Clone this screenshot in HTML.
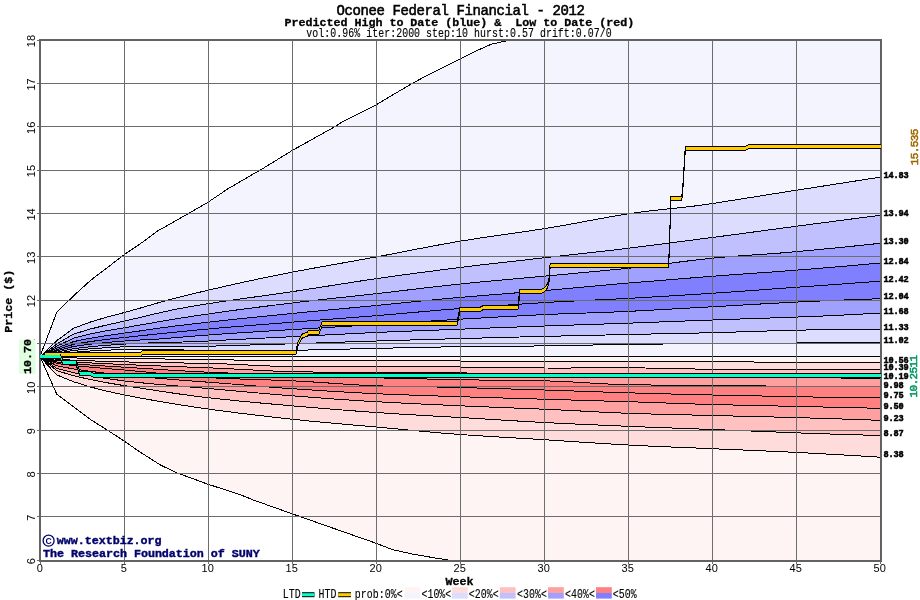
<!DOCTYPE html>
<html lang="en"><head><meta charset="utf-8"><title>Oconee Federal Financial - 2012</title>
<style>html,body{margin:0;padding:0;background:#fff}body{width:920px;height:600px;overflow:hidden}svg{display:block;will-change:transform;opacity:.999}</style></head>
<body>
<svg width="920" height="600" viewBox="0 0 920 600">
<defs><clipPath id="cp"><rect x="40" y="40" width="841" height="521"/></clipPath></defs>
<rect width="920" height="600" fill="#fff"/>
<g clip-path="url(#cp)">
<polygon points="40.00,356.50 56.80,312.20 73.60,295.80 90.40,280.50 107.20,267.70 124.00,254.80 140.80,243.40 157.60,231.00 174.40,221.50 191.20,212.00 208.00,202.25 227.49,189.10 249.83,176.00 260.75,169.80 292.00,150.60 334.67,126.80 343.07,121.30 376.00,104.90 399.52,90.90 412.29,83.40 427.91,75.00 460.00,59.00 478.82,49.80 491.42,44.20 507.88,40.60 527.20,37.00 880.00,0.00 880.00,177.20 863.20,179.81 846.40,182.43 829.60,185.05 812.80,187.68 796.00,190.30 779.20,192.94 762.40,195.60 745.60,198.28 728.80,200.95 712.00,203.60 695.20,205.93 678.40,207.82 661.60,209.58 644.80,211.47 628.00,213.80 611.20,216.62 594.40,219.69 577.60,222.84 560.80,225.90 544.00,228.70 527.20,231.23 510.40,233.65 493.60,236.06 476.80,238.55 460.00,241.20 443.20,244.12 426.40,247.26 409.60,250.53 392.80,253.81 376.00,257.00 359.20,260.05 342.40,263.03 325.60,266.01 308.80,269.04 292.00,272.20 275.20,275.52 258.40,279.00 241.60,282.62 224.80,286.37 208.00,290.25 191.20,294.17 174.40,298.32 157.60,303.01 140.80,307.91 124.00,312.60 107.20,317.02 90.40,322.03 73.60,328.29 56.80,340.64 40.00,356.90" fill="#f4f4ff"/>
<polygon points="40.00,356.90 56.80,340.64 73.60,328.29 90.40,322.03 107.20,317.02 124.00,312.60 140.80,307.91 157.60,303.01 174.40,298.32 191.20,294.17 208.00,290.25 224.80,286.37 241.60,282.62 258.40,279.00 275.20,275.52 292.00,272.20 308.80,269.04 325.60,266.01 342.40,263.03 359.20,260.05 376.00,257.00 392.80,253.81 409.60,250.53 426.40,247.26 443.20,244.12 460.00,241.20 476.80,238.55 493.60,236.06 510.40,233.65 527.20,231.23 544.00,228.70 560.80,225.90 577.60,222.84 594.40,219.69 611.20,216.62 628.00,213.80 644.80,211.47 661.60,209.58 678.40,207.82 695.20,205.93 712.00,203.60 728.80,200.95 745.60,198.28 762.40,195.60 779.20,192.94 796.00,190.30 812.80,187.68 829.60,185.05 846.40,182.43 863.20,179.81 880.00,177.20 880.00,215.30 863.20,217.49 846.40,219.68 829.60,221.88 812.80,224.09 796.00,226.30 779.20,228.54 762.40,230.81 745.60,233.07 728.80,235.32 712.00,237.50 695.20,239.67 678.40,241.85 661.60,244.04 644.80,246.19 628.00,248.30 611.20,250.30 594.40,252.19 577.60,254.03 560.80,255.88 544.00,257.80 527.20,259.72 510.40,261.59 493.60,263.47 476.80,265.42 460.00,267.50 443.20,269.66 426.40,271.83 409.60,274.04 392.80,276.31 376.00,278.70 359.20,281.21 342.40,283.82 325.60,286.47 308.80,289.11 292.00,291.70 275.20,294.15 258.40,296.47 241.60,298.77 224.80,301.17 208.00,303.75 191.20,306.49 174.40,309.54 157.60,313.23 140.80,317.27 124.00,321.20 107.20,324.87 90.40,329.00 73.60,334.10 56.80,343.96 40.00,356.90" fill="#dcdcff"/>
<polygon points="40.00,356.90 56.80,343.96 73.60,334.10 90.40,329.00 107.20,324.87 124.00,321.20 140.80,317.27 157.60,313.23 174.40,309.54 191.20,306.49 208.00,303.75 224.80,301.17 241.60,298.77 258.40,296.47 275.20,294.15 292.00,291.70 308.80,289.11 325.60,286.47 342.40,283.82 359.20,281.21 376.00,278.70 392.80,276.31 409.60,274.04 426.40,271.83 443.20,269.66 460.00,267.50 476.80,265.42 493.60,263.47 510.40,261.59 527.20,259.72 544.00,257.80 560.80,255.88 577.60,254.03 594.40,252.19 611.20,250.30 628.00,248.30 644.80,246.19 661.60,244.04 678.40,241.85 695.20,239.67 712.00,237.50 728.80,235.32 745.60,233.07 762.40,230.81 779.20,228.54 796.00,226.30 812.80,224.09 829.60,221.88 846.40,219.68 863.20,217.49 880.00,215.30 880.00,243.30 863.20,245.12 846.40,246.84 829.60,248.50 812.80,250.11 796.00,251.70 779.20,253.12 762.40,254.33 745.60,255.47 728.80,256.71 712.00,258.20 695.20,260.05 678.40,262.15 661.60,264.35 644.80,266.45 628.00,268.30 611.20,269.93 594.40,271.52 577.60,273.08 560.80,274.63 544.00,276.20 527.20,277.75 510.40,279.25 493.60,280.76 476.80,282.32 460.00,284.00 443.20,285.82 426.40,287.76 409.60,289.76 392.80,291.75 376.00,293.70 359.20,295.56 342.40,297.36 325.60,299.17 308.80,301.03 292.00,303.00 275.20,305.05 258.40,307.15 241.60,309.32 224.80,311.60 208.00,314.00 191.20,316.48 174.40,319.09 157.60,321.97 140.80,324.91 124.00,327.80 107.20,330.63 90.40,333.94 73.60,338.13 56.80,346.24 40.00,356.90" fill="#c0c0ff"/>
<polygon points="40.00,356.90 56.80,346.24 73.60,338.13 90.40,333.94 107.20,330.63 124.00,327.80 140.80,324.91 157.60,321.97 174.40,319.09 191.20,316.48 208.00,314.00 224.80,311.60 241.60,309.32 258.40,307.15 275.20,305.05 292.00,303.00 308.80,301.03 325.60,299.17 342.40,297.36 359.20,295.56 376.00,293.70 392.80,291.75 409.60,289.76 426.40,287.76 443.20,285.82 460.00,284.00 476.80,282.32 493.60,280.76 510.40,279.25 527.20,277.75 544.00,276.20 560.80,274.63 577.60,273.08 594.40,271.52 611.20,269.93 628.00,268.30 644.80,266.45 661.60,264.35 678.40,262.15 695.20,260.05 712.00,258.20 728.80,256.71 745.60,255.47 762.40,254.33 779.20,253.12 796.00,251.70 812.80,250.11 829.60,248.50 846.40,246.84 863.20,245.12 880.00,243.30 880.00,263.00 863.20,264.53 846.40,266.02 829.60,267.47 812.80,268.86 796.00,270.20 779.20,271.46 762.40,272.66 745.60,273.84 728.80,275.04 712.00,276.30 695.20,277.63 678.40,278.98 661.60,280.35 644.80,281.73 628.00,283.10 611.20,284.53 594.40,286.05 577.60,287.60 560.80,289.13 544.00,290.60 527.20,291.99 510.40,293.33 493.60,294.65 476.80,296.00 460.00,297.40 443.20,298.90 426.40,300.51 409.60,302.17 392.80,303.85 376.00,305.50 359.20,307.10 342.40,308.68 325.60,310.25 308.80,311.85 292.00,313.50 275.20,315.17 258.40,316.85 241.60,318.56 224.80,320.35 208.00,322.25 191.20,324.13 174.40,326.08 157.60,328.40 140.80,330.82 124.00,333.20 107.20,335.52 90.40,338.21 73.60,341.59 56.80,348.20 40.00,356.90" fill="#a0a0ff"/>
<polygon points="40.00,356.90 56.80,348.20 73.60,341.59 90.40,338.21 107.20,335.52 124.00,333.20 140.80,330.82 157.60,328.40 174.40,326.08 191.20,324.13 208.00,322.25 224.80,320.35 241.60,318.56 258.40,316.85 275.20,315.17 292.00,313.50 308.80,311.85 325.60,310.25 342.40,308.68 359.20,307.10 376.00,305.50 392.80,303.85 409.60,302.17 426.40,300.51 443.20,298.90 460.00,297.40 476.80,296.00 493.60,294.65 510.40,293.33 527.20,291.99 544.00,290.60 560.80,289.13 577.60,287.60 594.40,286.05 611.20,284.53 628.00,283.10 644.80,281.73 661.60,280.35 678.40,278.98 695.20,277.63 712.00,276.30 728.80,275.04 745.60,273.84 762.40,272.66 779.20,271.46 796.00,270.20 812.80,268.86 829.60,267.47 846.40,266.02 863.20,264.53 880.00,263.00 880.00,281.20 863.20,282.43 846.40,283.66 829.60,284.88 812.80,286.10 796.00,287.30 779.20,288.51 762.40,289.75 745.60,290.97 728.80,292.16 712.00,293.30 695.20,294.38 678.40,295.43 661.60,296.45 644.80,297.43 628.00,298.40 611.20,299.28 594.40,300.06 577.60,300.82 560.80,301.64 544.00,302.60 527.20,303.68 510.40,304.82 493.60,306.00 476.80,307.23 460.00,308.50 443.20,309.85 426.40,311.31 409.60,312.81 392.80,314.30 376.00,315.70 359.20,317.02 342.40,318.31 325.60,319.58 308.80,320.87 292.00,322.20 275.20,323.53 258.40,324.84 241.60,326.16 224.80,327.54 208.00,329.00 191.20,330.56 174.40,332.23 157.60,333.98 140.80,335.70 124.00,337.50 107.20,339.37 90.40,341.54 73.60,344.31 56.80,349.72 40.00,356.90" fill="#8080ff"/>
<polygon points="40.00,356.90 56.80,349.72 73.60,344.31 90.40,341.54 107.20,339.37 124.00,337.50 140.80,335.70 157.60,333.98 174.40,332.23 191.20,330.56 208.00,329.00 224.80,327.54 241.60,326.16 258.40,324.84 275.20,323.53 292.00,322.20 308.80,320.87 325.60,319.58 342.40,318.31 359.20,317.02 376.00,315.70 392.80,314.30 409.60,312.81 426.40,311.31 443.20,309.85 460.00,308.50 476.80,307.23 493.60,306.00 510.40,304.82 527.20,303.68 544.00,302.60 560.80,301.64 577.60,300.82 594.40,300.06 611.20,299.28 628.00,298.40 644.80,297.43 661.60,296.45 678.40,295.43 695.20,294.38 712.00,293.30 728.80,292.16 745.60,290.97 762.40,289.75 779.20,288.51 796.00,287.30 812.80,286.10 829.60,284.88 846.40,283.66 863.20,282.43 880.00,281.20 880.00,298.75 863.20,299.31 846.40,299.92 829.60,300.59 812.80,301.31 796.00,302.10 779.20,302.97 762.40,303.90 745.60,304.88 728.80,305.85 712.00,306.80 695.20,307.73 678.40,308.67 661.60,309.60 644.80,310.52 628.00,311.40 611.20,312.15 594.40,312.75 577.60,313.30 560.80,313.88 544.00,314.60 527.20,315.45 510.40,316.35 493.60,317.28 476.80,318.24 460.00,319.20 443.20,320.21 426.40,321.30 409.60,322.42 392.80,323.54 376.00,324.60 359.20,325.61 342.40,326.59 325.60,327.57 308.80,328.57 292.00,329.60 275.20,330.64 258.40,331.67 241.60,332.72 224.80,333.82 208.00,335.00 191.20,336.33 174.40,337.77 157.60,339.11 140.80,339.94 124.00,341.00 107.20,342.45 90.40,344.18 73.60,346.44 56.80,350.90 40.00,356.90" fill="#8080ff"/>
<polygon points="40.00,356.90 56.80,350.90 73.60,346.44 90.40,344.18 107.20,342.45 124.00,341.00 140.80,339.94 157.60,339.11 174.40,337.77 191.20,336.33 208.00,335.00 224.80,333.82 241.60,332.72 258.40,331.67 275.20,330.64 292.00,329.60 308.80,328.57 325.60,327.57 342.40,326.59 359.20,325.61 376.00,324.60 392.80,323.54 409.60,322.42 426.40,321.30 443.20,320.21 460.00,319.20 476.80,318.24 493.60,317.28 510.40,316.35 527.20,315.45 544.00,314.60 560.80,313.88 577.60,313.30 594.40,312.75 611.20,312.15 628.00,311.40 644.80,310.52 661.60,309.60 678.40,308.67 695.20,307.73 712.00,306.80 728.80,305.85 745.60,304.88 762.40,303.90 779.20,302.97 796.00,302.10 812.80,301.31 829.60,300.59 846.40,299.92 863.20,299.31 880.00,298.75 880.00,313.10 863.20,314.00 846.40,314.87 829.60,315.70 812.80,316.44 796.00,317.10 779.20,317.69 762.40,318.26 745.60,318.82 728.80,319.40 712.00,320.00 695.20,320.63 678.40,321.28 661.60,321.92 644.80,322.57 628.00,323.20 611.20,323.79 594.40,324.34 577.60,324.88 560.80,325.42 544.00,326.00 527.20,326.61 510.40,327.24 493.60,327.88 476.80,328.54 460.00,329.20 443.20,329.85 426.40,330.48 409.60,331.12 392.80,331.78 376.00,332.50 359.20,333.28 342.40,334.12 325.60,334.99 308.80,335.85 292.00,336.70 275.20,337.53 258.40,338.36 241.60,339.21 224.80,340.08 208.00,341.00 191.20,341.75 174.40,342.25 157.60,342.69 140.80,343.24 124.00,344.10 107.20,345.24 90.40,346.70 73.60,348.62 56.80,352.20 40.00,356.90" fill="#a0a0ff"/>
<polygon points="40.00,356.90 56.80,352.20 73.60,348.62 90.40,346.70 107.20,345.24 124.00,344.10 140.80,343.24 157.60,342.69 174.40,342.25 191.20,341.75 208.00,341.00 224.80,340.08 241.60,339.21 258.40,338.36 275.20,337.53 292.00,336.70 308.80,335.85 325.60,334.99 342.40,334.12 359.20,333.28 376.00,332.50 392.80,331.78 409.60,331.12 426.40,330.48 443.20,329.85 460.00,329.20 476.80,328.54 493.60,327.88 510.40,327.24 527.20,326.61 544.00,326.00 560.80,325.42 577.60,324.88 594.40,324.34 611.20,323.79 628.00,323.20 644.80,322.57 661.60,321.92 678.40,321.28 695.20,320.63 712.00,320.00 728.80,319.40 745.60,318.82 762.40,318.26 779.20,317.69 796.00,317.10 812.80,316.44 829.60,315.70 846.40,314.87 863.20,314.00 880.00,313.10 880.00,329.75 863.20,329.66 846.40,329.64 829.60,329.71 812.80,329.89 796.00,330.20 779.20,330.64 762.40,331.16 745.60,331.71 728.80,332.24 712.00,332.70 695.20,333.09 678.40,333.45 661.60,333.79 644.80,334.14 628.00,334.50 611.20,334.88 594.40,335.25 577.60,335.63 560.80,336.01 544.00,336.40 527.20,336.81 510.40,337.25 493.60,337.70 476.80,338.16 460.00,338.60 443.20,339.05 426.40,339.52 409.60,340.01 392.80,340.51 376.00,341.00 359.20,341.52 342.40,342.09 325.60,342.69 308.80,343.26 292.00,343.80 275.20,344.29 258.40,344.77 241.60,345.25 224.80,345.74 208.00,346.25 191.20,346.53 174.40,346.49 157.60,346.36 140.80,346.38 124.00,346.80 107.20,347.62 90.40,348.79 73.60,350.41 56.80,353.22 40.00,356.90" fill="#c0c0ff"/>
<polygon points="40.00,356.90 56.80,353.22 73.60,350.41 90.40,348.79 107.20,347.62 124.00,346.80 140.80,346.38 157.60,346.36 174.40,346.49 191.20,346.53 208.00,346.25 224.80,345.74 241.60,345.25 258.40,344.77 275.20,344.29 292.00,343.80 308.80,343.26 325.60,342.69 342.40,342.09 359.20,341.52 376.00,341.00 392.80,340.51 409.60,340.01 426.40,339.52 443.20,339.05 460.00,338.60 476.80,338.16 493.60,337.70 510.40,337.25 527.20,336.81 544.00,336.40 560.80,336.01 577.60,335.63 594.40,335.25 611.20,334.88 628.00,334.50 644.80,334.14 661.60,333.79 678.40,333.45 695.20,333.09 712.00,332.70 728.80,332.24 745.60,331.71 762.40,331.16 779.20,330.64 796.00,330.20 812.80,329.89 829.60,329.71 846.40,329.64 863.20,329.66 880.00,329.75 880.00,342.50 863.20,342.59 846.40,342.69 829.60,342.79 812.80,342.89 796.00,343.00 779.20,343.11 762.40,343.22 745.60,343.34 728.80,343.46 712.00,343.60 695.20,343.74 678.40,343.88 661.60,344.03 644.80,344.20 628.00,344.40 611.20,344.66 594.40,344.98 577.60,345.33 560.80,345.65 544.00,345.90 527.20,346.08 510.40,346.22 493.60,346.36 476.80,346.51 460.00,346.70 443.20,346.96 426.40,347.29 409.60,347.65 392.80,348.03 376.00,348.40 359.20,348.78 342.40,349.20 325.60,349.61 308.80,349.99 292.00,350.30 275.20,350.47 258.40,350.51 241.60,350.46 224.80,350.37 208.00,350.30 191.20,350.14 174.40,349.85 157.60,349.57 140.80,349.44 124.00,349.60 107.20,350.12 90.40,351.01 73.60,352.29 56.80,354.32 40.00,356.90" fill="#dcdcff"/>
<polygon points="40.00,356.90 56.80,354.32 73.60,352.29 90.40,351.01 107.20,350.12 124.00,349.60 140.80,349.44 157.60,349.57 174.40,349.85 191.20,350.14 208.00,350.30 224.80,350.37 241.60,350.46 258.40,350.51 275.20,350.47 292.00,350.30 308.80,349.99 325.60,349.61 342.40,349.20 359.20,348.78 376.00,348.40 392.80,348.03 409.60,347.65 426.40,347.29 443.20,346.96 460.00,346.70 476.80,346.51 493.60,346.36 510.40,346.22 527.20,346.08 544.00,345.90 560.80,345.65 577.60,345.33 594.40,344.98 611.20,344.66 628.00,344.40 644.80,344.20 661.60,344.03 678.40,343.88 695.20,343.74 712.00,343.60 728.80,343.46 745.60,343.34 762.40,343.22 779.20,343.11 796.00,343.00 812.80,342.89 829.60,342.79 846.40,342.69 863.20,342.59 880.00,342.50 881.00,356.50 40.00,356.50" fill="#f4f4ff"/>
<polygon points="40.00,356.50 881.00,356.50 880.00,362.50 863.20,362.57 846.40,362.59 829.60,362.58 812.80,362.55 796.00,362.50 779.20,362.37 762.40,362.14 745.60,361.86 728.80,361.63 712.00,361.50 695.20,361.46 678.40,361.44 661.60,361.42 644.80,361.41 628.00,361.40 611.20,361.40 594.40,361.42 577.60,361.44 560.80,361.44 544.00,361.40 527.20,361.34 510.40,361.26 493.60,361.18 476.80,361.09 460.00,361.00 443.20,360.89 426.40,360.76 409.60,360.62 392.80,360.50 376.00,360.40 359.20,360.41 342.40,360.53 325.60,360.69 308.80,360.81 292.00,360.80 275.20,360.65 258.40,360.41 241.60,360.13 224.80,359.85 208.00,359.60 191.20,359.38 174.40,359.14 157.60,358.91 140.80,358.69 124.00,358.50 107.20,358.32 90.40,358.15 73.60,357.97 56.80,357.73 40.00,356.90" fill="#fff4f4"/>
<polygon points="40.00,356.90 56.80,357.73 73.60,357.97 90.40,358.15 107.20,358.32 124.00,358.50 140.80,358.69 157.60,358.91 174.40,359.14 191.20,359.38 208.00,359.60 224.80,359.85 241.60,360.13 258.40,360.41 275.20,360.65 292.00,360.80 308.80,360.81 325.60,360.69 342.40,360.53 359.20,360.41 376.00,360.40 392.80,360.50 409.60,360.62 426.40,360.76 443.20,360.89 460.00,361.00 476.80,361.09 493.60,361.18 510.40,361.26 527.20,361.34 544.00,361.40 560.80,361.44 577.60,361.44 594.40,361.42 611.20,361.40 628.00,361.40 644.80,361.41 661.60,361.42 678.40,361.44 695.20,361.46 712.00,361.50 728.80,361.63 745.60,361.86 762.40,362.14 779.20,362.37 796.00,362.50 812.80,362.55 829.60,362.58 846.40,362.59 863.20,362.57 880.00,362.50 880.00,369.70 863.20,369.75 846.40,369.78 829.60,369.80 812.80,369.77 796.00,369.70 779.20,369.60 762.40,369.50 745.60,369.40 728.80,369.30 712.00,369.20 695.20,369.01 678.40,368.69 661.60,368.33 644.80,368.00 628.00,367.80 611.20,367.77 594.40,367.85 577.60,367.97 560.80,368.05 544.00,368.00 527.20,367.83 510.40,367.62 493.60,367.40 476.80,367.18 460.00,367.00 443.20,366.86 426.40,366.75 409.60,366.66 392.80,366.58 376.00,366.50 359.20,366.51 342.40,366.62 325.60,366.76 308.80,366.82 292.00,366.70 275.20,366.25 258.40,365.51 241.60,364.66 224.80,363.90 208.00,363.40 191.20,363.12 174.40,362.86 157.60,362.58 140.80,362.27 124.00,361.90 107.20,361.43 90.40,360.87 73.60,360.19 56.80,359.27 40.00,356.90" fill="#ffdcdc"/>
<polygon points="40.00,356.90 56.80,359.27 73.60,360.19 90.40,360.87 107.20,361.43 124.00,361.90 140.80,362.27 157.60,362.58 174.40,362.86 191.20,363.12 208.00,363.40 224.80,363.90 241.60,364.66 258.40,365.51 275.20,366.25 292.00,366.70 308.80,366.82 325.60,366.76 342.40,366.62 359.20,366.51 376.00,366.50 392.80,366.58 409.60,366.66 426.40,366.75 443.20,366.86 460.00,367.00 476.80,367.18 493.60,367.40 510.40,367.62 527.20,367.83 544.00,368.00 560.80,368.05 577.60,367.97 594.40,367.85 611.20,367.77 628.00,367.80 644.80,368.00 661.60,368.33 678.40,368.69 695.20,369.01 712.00,369.20 728.80,369.30 745.60,369.40 762.40,369.50 779.20,369.60 796.00,369.70 812.80,369.77 829.60,369.80 846.40,369.78 863.20,369.75 880.00,369.70 880.00,378.30 863.20,378.18 846.40,378.05 829.60,377.92 812.80,377.78 796.00,377.64 779.20,377.49 762.40,377.34 745.60,377.19 728.80,377.03 712.00,376.87 695.20,376.70 678.40,376.54 661.60,376.37 644.80,376.19 628.00,376.00 611.20,375.77 594.40,375.49 577.60,375.16 560.80,374.82 544.00,374.47 527.20,374.13 510.40,373.79 493.60,373.47 476.80,373.17 460.00,372.90 443.20,372.68 426.40,372.53 409.60,372.42 392.80,372.32 376.00,372.20 359.20,372.13 342.40,372.12 325.60,372.10 308.80,371.98 292.00,371.70 275.20,371.14 258.40,370.33 241.60,369.42 224.80,368.53 208.00,367.80 191.20,367.18 174.40,366.54 157.60,365.88 140.80,365.19 124.00,364.50 107.20,363.75 90.40,362.91 73.60,361.91 56.80,360.60 40.00,356.90" fill="#ffc0c0"/>
<polygon points="40.00,356.90 56.80,360.60 73.60,361.91 90.40,362.91 107.20,363.75 124.00,364.50 140.80,365.19 157.60,365.88 174.40,366.54 191.20,367.18 208.00,367.80 224.80,368.53 241.60,369.42 258.40,370.33 275.20,371.14 292.00,371.70 308.80,371.98 325.60,372.10 342.40,372.12 359.20,372.13 376.00,372.20 392.80,372.32 409.60,372.42 426.40,372.53 443.20,372.68 460.00,372.90 476.80,373.17 493.60,373.47 510.40,373.79 527.20,374.13 544.00,374.47 560.80,374.82 577.60,375.16 594.40,375.49 611.20,375.77 628.00,376.00 644.80,376.19 661.60,376.37 678.40,376.54 695.20,376.70 712.00,376.87 728.80,377.03 745.60,377.19 762.40,377.34 779.20,377.49 796.00,377.64 812.80,377.78 829.60,377.92 846.40,378.05 863.20,378.18 880.00,378.30 880.00,387.00 863.20,386.87 846.40,386.73 829.60,386.59 812.80,386.45 796.00,386.30 779.20,386.14 762.40,385.98 745.60,385.82 728.80,385.66 712.00,385.50 695.20,385.36 678.40,385.24 661.60,385.11 644.80,384.94 628.00,384.70 611.20,384.17 594.40,383.28 577.60,382.27 560.80,381.37 544.00,380.80 527.20,380.53 510.40,380.34 493.60,380.18 476.80,379.98 460.00,379.70 443.20,379.35 426.40,378.99 409.60,378.62 392.80,378.22 376.00,377.80 359.20,377.34 342.40,376.85 325.60,376.34 308.80,375.80 292.00,375.25 275.20,374.69 258.40,374.12 241.60,373.52 224.80,372.89 208.00,372.20 191.20,371.38 174.40,370.40 157.60,369.33 140.80,368.24 124.00,367.20 107.20,366.15 90.40,365.02 73.60,363.71 56.80,361.99 40.00,356.90" fill="#ffa0a0"/>
<polygon points="40.00,356.90 56.80,361.99 73.60,363.71 90.40,365.02 107.20,366.15 124.00,367.20 140.80,368.24 157.60,369.33 174.40,370.40 191.20,371.38 208.00,372.20 224.80,372.89 241.60,373.52 258.40,374.12 275.20,374.69 292.00,375.25 308.80,375.80 325.60,376.34 342.40,376.85 359.20,377.34 376.00,377.80 392.80,378.22 409.60,378.62 426.40,378.99 443.20,379.35 460.00,379.70 476.80,379.98 493.60,380.18 510.40,380.34 527.20,380.53 544.00,380.80 560.80,381.37 577.60,382.27 594.40,383.28 611.20,384.17 628.00,384.70 644.80,384.94 661.60,385.11 678.40,385.24 695.20,385.36 712.00,385.50 728.80,385.66 745.60,385.82 762.40,385.98 779.20,386.14 796.00,386.30 812.80,386.45 829.60,386.59 846.40,386.73 863.20,386.87 880.00,387.00 880.00,397.80 863.20,397.64 846.40,397.46 829.60,397.26 812.80,397.01 796.00,396.70 779.20,396.36 762.40,396.02 745.60,395.68 728.80,395.34 712.00,395.00 695.20,394.63 678.40,394.21 661.60,393.76 644.80,393.29 628.00,392.80 611.20,392.28 594.40,391.71 577.60,391.12 560.80,390.54 544.00,390.00 527.20,389.49 510.40,388.98 493.60,388.48 476.80,387.99 460.00,387.50 443.20,387.11 426.40,386.84 409.60,386.60 392.80,386.28 376.00,385.80 359.20,385.02 342.40,383.97 325.60,382.81 308.80,381.70 292.00,380.80 275.20,380.14 258.40,379.59 241.60,379.05 224.80,378.42 208.00,377.60 191.20,376.41 174.40,374.87 157.60,373.17 140.80,371.48 124.00,370.00 107.20,368.63 90.40,367.18 73.60,365.54 56.80,363.42 40.00,356.90" fill="#ff8080"/>
<polygon points="40.00,356.90 56.80,363.42 73.60,365.54 90.40,367.18 107.20,368.63 124.00,370.00 140.80,371.48 157.60,373.17 174.40,374.87 191.20,376.41 208.00,377.60 224.80,378.42 241.60,379.05 258.40,379.59 275.20,380.14 292.00,380.80 308.80,381.70 325.60,382.81 342.40,383.97 359.20,385.02 376.00,385.80 392.80,386.28 409.60,386.60 426.40,386.84 443.20,387.11 460.00,387.50 476.80,387.99 493.60,388.48 510.40,388.98 527.20,389.49 544.00,390.00 560.80,390.54 577.60,391.12 594.40,391.71 611.20,392.28 628.00,392.80 644.80,393.29 661.60,393.76 678.40,394.21 695.20,394.63 712.00,395.00 728.80,395.34 745.60,395.68 762.40,396.02 779.20,396.36 796.00,396.70 812.80,397.01 829.60,397.26 846.40,397.46 863.20,397.64 880.00,397.80 880.00,408.30 863.20,407.92 846.40,407.54 829.60,407.16 812.80,406.78 796.00,406.40 779.20,406.02 762.40,405.66 745.60,405.29 728.80,404.91 712.00,404.50 695.20,404.01 678.40,403.44 661.60,402.83 644.80,402.23 628.00,401.70 611.20,401.22 594.40,400.72 577.60,400.21 560.80,399.71 544.00,399.20 527.20,398.71 510.40,398.22 493.60,397.73 476.80,397.23 460.00,396.70 443.20,396.16 426.40,395.61 409.60,395.04 392.80,394.41 376.00,393.70 359.20,392.87 342.40,391.93 325.60,390.90 308.80,389.81 292.00,388.70 275.20,387.50 258.40,386.18 241.60,384.82 224.80,383.47 208.00,382.20 191.20,380.95 174.40,379.61 157.60,378.19 140.80,376.70 124.00,375.15 107.20,373.40 90.40,371.40 73.60,368.97 56.80,365.78 40.00,356.90" fill="#ff8080"/>
<polygon points="40.00,356.90 56.80,365.78 73.60,368.97 90.40,371.40 107.20,373.40 124.00,375.15 140.80,376.70 157.60,378.19 174.40,379.61 191.20,380.95 208.00,382.20 224.80,383.47 241.60,384.82 258.40,386.18 275.20,387.50 292.00,388.70 308.80,389.81 325.60,390.90 342.40,391.93 359.20,392.87 376.00,393.70 392.80,394.41 409.60,395.04 426.40,395.61 443.20,396.16 460.00,396.70 476.80,397.23 493.60,397.73 510.40,398.22 527.20,398.71 544.00,399.20 560.80,399.71 577.60,400.21 594.40,400.72 611.20,401.22 628.00,401.70 644.80,402.23 661.60,402.83 678.40,403.44 695.20,404.01 712.00,404.50 728.80,404.91 745.60,405.29 762.40,405.66 779.20,406.02 796.00,406.40 812.80,406.78 829.60,407.16 846.40,407.54 863.20,407.92 880.00,408.30 880.00,420.30 863.20,419.72 846.40,419.16 829.60,418.62 812.80,418.10 796.00,417.60 779.20,417.13 762.40,416.71 745.60,416.31 728.80,415.91 712.00,415.50 695.20,415.09 678.40,414.70 661.60,414.29 644.80,413.83 628.00,413.30 611.20,412.61 594.40,411.76 577.60,410.85 560.80,409.97 544.00,409.20 527.20,408.53 510.40,407.87 493.60,407.21 476.80,406.53 460.00,405.80 443.20,405.04 426.40,404.26 409.60,403.45 392.80,402.60 376.00,401.70 359.20,400.70 342.40,399.58 325.60,398.37 308.80,397.10 292.00,395.80 275.20,394.45 258.40,393.00 241.60,391.51 224.80,389.99 208.00,388.50 191.20,387.09 174.40,385.75 157.60,384.34 140.80,382.76 124.00,380.90 107.20,378.62 90.40,375.95 73.60,372.69 56.80,368.36 40.00,356.90" fill="#ffa0a0"/>
<polygon points="40.00,356.90 56.80,368.36 73.60,372.69 90.40,375.95 107.20,378.62 124.00,380.90 140.80,382.76 157.60,384.34 174.40,385.75 191.20,387.09 208.00,388.50 224.80,389.99 241.60,391.51 258.40,393.00 275.20,394.45 292.00,395.80 308.80,397.10 325.60,398.37 342.40,399.58 359.20,400.70 376.00,401.70 392.80,402.60 409.60,403.45 426.40,404.26 443.20,405.04 460.00,405.80 476.80,406.53 493.60,407.21 510.40,407.87 527.20,408.53 544.00,409.20 560.80,409.97 577.60,410.85 594.40,411.76 611.20,412.61 628.00,413.30 644.80,413.83 661.60,414.29 678.40,414.70 695.20,415.09 712.00,415.50 728.80,415.91 745.60,416.31 762.40,416.71 779.20,417.13 796.00,417.60 812.80,418.10 829.60,418.62 846.40,419.16 863.20,419.72 880.00,420.30 880.00,435.50 863.20,435.02 846.40,434.53 829.60,434.01 812.80,433.44 796.00,432.80 779.20,432.13 762.40,431.46 745.60,430.80 728.80,430.15 712.00,429.50 695.20,428.87 678.40,428.25 661.60,427.63 644.80,426.99 628.00,426.30 611.20,425.58 594.40,424.85 577.60,424.11 560.80,423.32 544.00,422.50 527.20,421.59 510.40,420.58 493.60,419.53 476.80,418.48 460.00,417.50 443.20,416.57 426.40,415.62 409.60,414.64 392.80,413.61 376.00,412.50 359.20,411.29 342.40,410.00 325.60,408.65 308.80,407.24 292.00,405.80 275.20,404.34 258.40,402.82 241.60,401.23 224.80,399.53 208.00,397.70 191.20,395.63 174.40,393.29 157.60,390.78 140.80,388.19 124.00,385.60 107.20,382.79 90.40,379.58 73.60,375.72 56.80,370.68 40.00,356.90" fill="#ffc0c0"/>
<polygon points="40.00,356.90 56.80,370.68 73.60,375.72 90.40,379.58 107.20,382.79 124.00,385.60 140.80,388.19 157.60,390.78 174.40,393.29 191.20,395.63 208.00,397.70 224.80,399.53 241.60,401.23 258.40,402.82 275.20,404.34 292.00,405.80 308.80,407.24 325.60,408.65 342.40,410.00 359.20,411.29 376.00,412.50 392.80,413.61 409.60,414.64 426.40,415.62 443.20,416.57 460.00,417.50 476.80,418.48 493.60,419.53 510.40,420.58 527.20,421.59 544.00,422.50 560.80,423.32 577.60,424.11 594.40,424.85 611.20,425.58 628.00,426.30 644.80,426.99 661.60,427.63 678.40,428.25 695.20,428.87 712.00,429.50 728.80,430.15 745.60,430.80 762.40,431.46 779.20,432.13 796.00,432.80 812.80,433.44 829.60,434.01 846.40,434.53 863.20,435.02 880.00,435.50 880.00,457.20 863.20,456.15 846.40,455.15 829.60,454.19 812.80,453.28 796.00,452.40 779.20,451.58 762.40,450.84 745.60,450.12 728.80,449.42 712.00,448.70 695.20,447.99 678.40,447.31 661.60,446.61 644.80,445.86 628.00,445.00 611.20,444.03 594.40,442.99 577.60,441.90 560.80,440.79 544.00,439.70 527.20,438.66 510.40,437.66 493.60,436.67 476.80,435.63 460.00,434.50 443.20,433.19 426.40,431.71 409.60,430.13 392.80,428.53 376.00,427.00 359.20,425.54 342.40,424.08 325.60,422.56 308.80,420.95 292.00,419.20 275.20,417.34 258.40,415.42 241.60,413.41 224.80,411.28 208.00,409.00 191.20,406.55 174.40,403.91 157.60,401.09 140.80,398.08 124.00,394.90 107.20,391.25 90.40,386.97 73.60,381.76 56.80,374.93 40.00,356.90" fill="#ffdcdc"/>
<polygon points="40.00,356.90 56.80,374.93 73.60,381.76 90.40,386.97 107.20,391.25 124.00,394.90 140.80,398.08 157.60,401.09 174.40,403.91 191.20,406.55 208.00,409.00 224.80,411.28 241.60,413.41 258.40,415.42 275.20,417.34 292.00,419.20 308.80,420.95 325.60,422.56 342.40,424.08 359.20,425.54 376.00,427.00 392.80,428.53 409.60,430.13 426.40,431.71 443.20,433.19 460.00,434.50 476.80,435.63 493.60,436.67 510.40,437.66 527.20,438.66 544.00,439.70 560.80,440.79 577.60,441.90 594.40,442.99 611.20,444.03 628.00,445.00 644.80,445.86 661.60,446.61 678.40,447.31 695.20,447.99 712.00,448.70 728.80,449.42 745.60,450.12 762.40,450.84 779.20,451.58 796.00,452.40 812.80,453.28 829.60,454.19 846.40,455.15 863.20,456.15 880.00,457.20 880.00,600.00 476.80,563.00 451.60,560.50 439.84,558.75 414.64,554.50 392.13,549.50 376.00,543.25 292.00,513.75 253.36,500.00 239.92,494.50 208.00,484.25 175.91,472.50 160.46,465.00 138.45,451.00 124.00,441.00 107.20,430.00 90.40,419.50 73.60,406.80 56.80,394.20 40.00,356.50" fill="#fff4f4"/>
<g fill="none" stroke="#000" stroke-width="1" stroke-linejoin="round" shape-rendering="crispEdges">
<polyline points="40.00,356.50 56.80,312.20 73.60,295.80 90.40,280.50 107.20,267.70 124.00,254.80 140.80,243.40 157.60,231.00 174.40,221.50 191.20,212.00 208.00,202.25 227.49,189.10 249.83,176.00 260.75,169.80 292.00,150.60 334.67,126.80 343.07,121.30 376.00,104.90 399.52,90.90 412.29,83.40 427.91,75.00 460.00,59.00 478.82,49.80 491.42,44.20 507.88,40.60 527.20,37.00 880.00,0.00"/>
<polyline points="40.00,356.90 56.80,340.64 73.60,328.29 90.40,322.03 107.20,317.02 124.00,312.60 140.80,307.91 157.60,303.01 174.40,298.32 191.20,294.17 208.00,290.25 224.80,286.37 241.60,282.62 258.40,279.00 275.20,275.52 292.00,272.20 308.80,269.04 325.60,266.01 342.40,263.03 359.20,260.05 376.00,257.00 392.80,253.81 409.60,250.53 426.40,247.26 443.20,244.12 460.00,241.20 476.80,238.55 493.60,236.06 510.40,233.65 527.20,231.23 544.00,228.70 560.80,225.90 577.60,222.84 594.40,219.69 611.20,216.62 628.00,213.80 644.80,211.47 661.60,209.58 678.40,207.82 695.20,205.93 712.00,203.60 728.80,200.95 745.60,198.28 762.40,195.60 779.20,192.94 796.00,190.30 812.80,187.68 829.60,185.05 846.40,182.43 863.20,179.81 880.00,177.20"/>
<polyline points="40.00,356.90 56.80,343.96 73.60,334.10 90.40,329.00 107.20,324.87 124.00,321.20 140.80,317.27 157.60,313.23 174.40,309.54 191.20,306.49 208.00,303.75 224.80,301.17 241.60,298.77 258.40,296.47 275.20,294.15 292.00,291.70 308.80,289.11 325.60,286.47 342.40,283.82 359.20,281.21 376.00,278.70 392.80,276.31 409.60,274.04 426.40,271.83 443.20,269.66 460.00,267.50 476.80,265.42 493.60,263.47 510.40,261.59 527.20,259.72 544.00,257.80 560.80,255.88 577.60,254.03 594.40,252.19 611.20,250.30 628.00,248.30 644.80,246.19 661.60,244.04 678.40,241.85 695.20,239.67 712.00,237.50 728.80,235.32 745.60,233.07 762.40,230.81 779.20,228.54 796.00,226.30 812.80,224.09 829.60,221.88 846.40,219.68 863.20,217.49 880.00,215.30"/>
<polyline points="40.00,356.90 56.80,346.24 73.60,338.13 90.40,333.94 107.20,330.63 124.00,327.80 140.80,324.91 157.60,321.97 174.40,319.09 191.20,316.48 208.00,314.00 224.80,311.60 241.60,309.32 258.40,307.15 275.20,305.05 292.00,303.00 308.80,301.03 325.60,299.17 342.40,297.36 359.20,295.56 376.00,293.70 392.80,291.75 409.60,289.76 426.40,287.76 443.20,285.82 460.00,284.00 476.80,282.32 493.60,280.76 510.40,279.25 527.20,277.75 544.00,276.20 560.80,274.63 577.60,273.08 594.40,271.52 611.20,269.93 628.00,268.30 644.80,266.45 661.60,264.35 678.40,262.15 695.20,260.05 712.00,258.20 728.80,256.71 745.60,255.47 762.40,254.33 779.20,253.12 796.00,251.70 812.80,250.11 829.60,248.50 846.40,246.84 863.20,245.12 880.00,243.30"/>
<polyline points="40.00,356.90 56.80,348.20 73.60,341.59 90.40,338.21 107.20,335.52 124.00,333.20 140.80,330.82 157.60,328.40 174.40,326.08 191.20,324.13 208.00,322.25 224.80,320.35 241.60,318.56 258.40,316.85 275.20,315.17 292.00,313.50 308.80,311.85 325.60,310.25 342.40,308.68 359.20,307.10 376.00,305.50 392.80,303.85 409.60,302.17 426.40,300.51 443.20,298.90 460.00,297.40 476.80,296.00 493.60,294.65 510.40,293.33 527.20,291.99 544.00,290.60 560.80,289.13 577.60,287.60 594.40,286.05 611.20,284.53 628.00,283.10 644.80,281.73 661.60,280.35 678.40,278.98 695.20,277.63 712.00,276.30 728.80,275.04 745.60,273.84 762.40,272.66 779.20,271.46 796.00,270.20 812.80,268.86 829.60,267.47 846.40,266.02 863.20,264.53 880.00,263.00"/>
<polyline points="40.00,356.90 56.80,349.72 73.60,344.31 90.40,341.54 107.20,339.37 124.00,337.50 140.80,335.70 157.60,333.98 174.40,332.23 191.20,330.56 208.00,329.00 224.80,327.54 241.60,326.16 258.40,324.84 275.20,323.53 292.00,322.20 308.80,320.87 325.60,319.58 342.40,318.31 359.20,317.02 376.00,315.70 392.80,314.30 409.60,312.81 426.40,311.31 443.20,309.85 460.00,308.50 476.80,307.23 493.60,306.00 510.40,304.82 527.20,303.68 544.00,302.60 560.80,301.64 577.60,300.82 594.40,300.06 611.20,299.28 628.00,298.40 644.80,297.43 661.60,296.45 678.40,295.43 695.20,294.38 712.00,293.30 728.80,292.16 745.60,290.97 762.40,289.75 779.20,288.51 796.00,287.30 812.80,286.10 829.60,284.88 846.40,283.66 863.20,282.43 880.00,281.20"/>
<polyline points="40.00,356.90 56.80,350.90 73.60,346.44 90.40,344.18 107.20,342.45 124.00,341.00 140.80,339.94 157.60,339.11 174.40,337.77 191.20,336.33 208.00,335.00 224.80,333.82 241.60,332.72 258.40,331.67 275.20,330.64 292.00,329.60 308.80,328.57 325.60,327.57 342.40,326.59 359.20,325.61 376.00,324.60 392.80,323.54 409.60,322.42 426.40,321.30 443.20,320.21 460.00,319.20 476.80,318.24 493.60,317.28 510.40,316.35 527.20,315.45 544.00,314.60 560.80,313.88 577.60,313.30 594.40,312.75 611.20,312.15 628.00,311.40 644.80,310.52 661.60,309.60 678.40,308.67 695.20,307.73 712.00,306.80 728.80,305.85 745.60,304.88 762.40,303.90 779.20,302.97 796.00,302.10 812.80,301.31 829.60,300.59 846.40,299.92 863.20,299.31 880.00,298.75"/>
<polyline points="40.00,356.90 56.80,352.20 73.60,348.62 90.40,346.70 107.20,345.24 124.00,344.10 140.80,343.24 157.60,342.69 174.40,342.25 191.20,341.75 208.00,341.00 224.80,340.08 241.60,339.21 258.40,338.36 275.20,337.53 292.00,336.70 308.80,335.85 325.60,334.99 342.40,334.12 359.20,333.28 376.00,332.50 392.80,331.78 409.60,331.12 426.40,330.48 443.20,329.85 460.00,329.20 476.80,328.54 493.60,327.88 510.40,327.24 527.20,326.61 544.00,326.00 560.80,325.42 577.60,324.88 594.40,324.34 611.20,323.79 628.00,323.20 644.80,322.57 661.60,321.92 678.40,321.28 695.20,320.63 712.00,320.00 728.80,319.40 745.60,318.82 762.40,318.26 779.20,317.69 796.00,317.10 812.80,316.44 829.60,315.70 846.40,314.87 863.20,314.00 880.00,313.10"/>
<polyline points="40.00,356.90 56.80,353.22 73.60,350.41 90.40,348.79 107.20,347.62 124.00,346.80 140.80,346.38 157.60,346.36 174.40,346.49 191.20,346.53 208.00,346.25 224.80,345.74 241.60,345.25 258.40,344.77 275.20,344.29 292.00,343.80 308.80,343.26 325.60,342.69 342.40,342.09 359.20,341.52 376.00,341.00 392.80,340.51 409.60,340.01 426.40,339.52 443.20,339.05 460.00,338.60 476.80,338.16 493.60,337.70 510.40,337.25 527.20,336.81 544.00,336.40 560.80,336.01 577.60,335.63 594.40,335.25 611.20,334.88 628.00,334.50 644.80,334.14 661.60,333.79 678.40,333.45 695.20,333.09 712.00,332.70 728.80,332.24 745.60,331.71 762.40,331.16 779.20,330.64 796.00,330.20 812.80,329.89 829.60,329.71 846.40,329.64 863.20,329.66 880.00,329.75"/>
<polyline points="40.00,356.90 56.80,354.32 73.60,352.29 90.40,351.01 107.20,350.12 124.00,349.60 140.80,349.44 157.60,349.57 174.40,349.85 191.20,350.14 208.00,350.30 224.80,350.37 241.60,350.46 258.40,350.51 275.20,350.47 292.00,350.30 308.80,349.99 325.60,349.61 342.40,349.20 359.20,348.78 376.00,348.40 392.80,348.03 409.60,347.65 426.40,347.29 443.20,346.96 460.00,346.70 476.80,346.51 493.60,346.36 510.40,346.22 527.20,346.08 544.00,345.90 560.80,345.65 577.60,345.33 594.40,344.98 611.20,344.66 628.00,344.40 644.80,344.20 661.60,344.03 678.40,343.88 695.20,343.74 712.00,343.60 728.80,343.46 745.60,343.34 762.40,343.22 779.20,343.11 796.00,343.00 812.80,342.89 829.60,342.79 846.40,342.69 863.20,342.59 880.00,342.50"/>
<polyline points="40.00,356.50 881.00,356.50"/>
<polyline points="40.00,356.90 56.80,357.73 73.60,357.97 90.40,358.15 107.20,358.32 124.00,358.50 140.80,358.69 157.60,358.91 174.40,359.14 191.20,359.38 208.00,359.60 224.80,359.85 241.60,360.13 258.40,360.41 275.20,360.65 292.00,360.80 308.80,360.81 325.60,360.69 342.40,360.53 359.20,360.41 376.00,360.40 392.80,360.50 409.60,360.62 426.40,360.76 443.20,360.89 460.00,361.00 476.80,361.09 493.60,361.18 510.40,361.26 527.20,361.34 544.00,361.40 560.80,361.44 577.60,361.44 594.40,361.42 611.20,361.40 628.00,361.40 644.80,361.41 661.60,361.42 678.40,361.44 695.20,361.46 712.00,361.50 728.80,361.63 745.60,361.86 762.40,362.14 779.20,362.37 796.00,362.50 812.80,362.55 829.60,362.58 846.40,362.59 863.20,362.57 880.00,362.50"/>
<polyline points="40.00,356.90 56.80,359.27 73.60,360.19 90.40,360.87 107.20,361.43 124.00,361.90 140.80,362.27 157.60,362.58 174.40,362.86 191.20,363.12 208.00,363.40 224.80,363.90 241.60,364.66 258.40,365.51 275.20,366.25 292.00,366.70 308.80,366.82 325.60,366.76 342.40,366.62 359.20,366.51 376.00,366.50 392.80,366.58 409.60,366.66 426.40,366.75 443.20,366.86 460.00,367.00 476.80,367.18 493.60,367.40 510.40,367.62 527.20,367.83 544.00,368.00 560.80,368.05 577.60,367.97 594.40,367.85 611.20,367.77 628.00,367.80 644.80,368.00 661.60,368.33 678.40,368.69 695.20,369.01 712.00,369.20 728.80,369.30 745.60,369.40 762.40,369.50 779.20,369.60 796.00,369.70 812.80,369.77 829.60,369.80 846.40,369.78 863.20,369.75 880.00,369.70"/>
<polyline points="40.00,356.90 56.80,360.60 73.60,361.91 90.40,362.91 107.20,363.75 124.00,364.50 140.80,365.19 157.60,365.88 174.40,366.54 191.20,367.18 208.00,367.80 224.80,368.53 241.60,369.42 258.40,370.33 275.20,371.14 292.00,371.70 308.80,371.98 325.60,372.10 342.40,372.12 359.20,372.13 376.00,372.20 392.80,372.32 409.60,372.42 426.40,372.53 443.20,372.68 460.00,372.90 476.80,373.17 493.60,373.47 510.40,373.79 527.20,374.13 544.00,374.47 560.80,374.82 577.60,375.16 594.40,375.49 611.20,375.77 628.00,376.00 644.80,376.19 661.60,376.37 678.40,376.54 695.20,376.70 712.00,376.87 728.80,377.03 745.60,377.19 762.40,377.34 779.20,377.49 796.00,377.64 812.80,377.78 829.60,377.92 846.40,378.05 863.20,378.18 880.00,378.30"/>
<polyline points="40.00,356.90 56.80,361.99 73.60,363.71 90.40,365.02 107.20,366.15 124.00,367.20 140.80,368.24 157.60,369.33 174.40,370.40 191.20,371.38 208.00,372.20 224.80,372.89 241.60,373.52 258.40,374.12 275.20,374.69 292.00,375.25 308.80,375.80 325.60,376.34 342.40,376.85 359.20,377.34 376.00,377.80 392.80,378.22 409.60,378.62 426.40,378.99 443.20,379.35 460.00,379.70 476.80,379.98 493.60,380.18 510.40,380.34 527.20,380.53 544.00,380.80 560.80,381.37 577.60,382.27 594.40,383.28 611.20,384.17 628.00,384.70 644.80,384.94 661.60,385.11 678.40,385.24 695.20,385.36 712.00,385.50 728.80,385.66 745.60,385.82 762.40,385.98 779.20,386.14 796.00,386.30 812.80,386.45 829.60,386.59 846.40,386.73 863.20,386.87 880.00,387.00"/>
<polyline points="40.00,356.90 56.80,363.42 73.60,365.54 90.40,367.18 107.20,368.63 124.00,370.00 140.80,371.48 157.60,373.17 174.40,374.87 191.20,376.41 208.00,377.60 224.80,378.42 241.60,379.05 258.40,379.59 275.20,380.14 292.00,380.80 308.80,381.70 325.60,382.81 342.40,383.97 359.20,385.02 376.00,385.80 392.80,386.28 409.60,386.60 426.40,386.84 443.20,387.11 460.00,387.50 476.80,387.99 493.60,388.48 510.40,388.98 527.20,389.49 544.00,390.00 560.80,390.54 577.60,391.12 594.40,391.71 611.20,392.28 628.00,392.80 644.80,393.29 661.60,393.76 678.40,394.21 695.20,394.63 712.00,395.00 728.80,395.34 745.60,395.68 762.40,396.02 779.20,396.36 796.00,396.70 812.80,397.01 829.60,397.26 846.40,397.46 863.20,397.64 880.00,397.80"/>
<polyline points="40.00,356.90 56.80,365.78 73.60,368.97 90.40,371.40 107.20,373.40 124.00,375.15 140.80,376.70 157.60,378.19 174.40,379.61 191.20,380.95 208.00,382.20 224.80,383.47 241.60,384.82 258.40,386.18 275.20,387.50 292.00,388.70 308.80,389.81 325.60,390.90 342.40,391.93 359.20,392.87 376.00,393.70 392.80,394.41 409.60,395.04 426.40,395.61 443.20,396.16 460.00,396.70 476.80,397.23 493.60,397.73 510.40,398.22 527.20,398.71 544.00,399.20 560.80,399.71 577.60,400.21 594.40,400.72 611.20,401.22 628.00,401.70 644.80,402.23 661.60,402.83 678.40,403.44 695.20,404.01 712.00,404.50 728.80,404.91 745.60,405.29 762.40,405.66 779.20,406.02 796.00,406.40 812.80,406.78 829.60,407.16 846.40,407.54 863.20,407.92 880.00,408.30"/>
<polyline points="40.00,356.90 56.80,368.36 73.60,372.69 90.40,375.95 107.20,378.62 124.00,380.90 140.80,382.76 157.60,384.34 174.40,385.75 191.20,387.09 208.00,388.50 224.80,389.99 241.60,391.51 258.40,393.00 275.20,394.45 292.00,395.80 308.80,397.10 325.60,398.37 342.40,399.58 359.20,400.70 376.00,401.70 392.80,402.60 409.60,403.45 426.40,404.26 443.20,405.04 460.00,405.80 476.80,406.53 493.60,407.21 510.40,407.87 527.20,408.53 544.00,409.20 560.80,409.97 577.60,410.85 594.40,411.76 611.20,412.61 628.00,413.30 644.80,413.83 661.60,414.29 678.40,414.70 695.20,415.09 712.00,415.50 728.80,415.91 745.60,416.31 762.40,416.71 779.20,417.13 796.00,417.60 812.80,418.10 829.60,418.62 846.40,419.16 863.20,419.72 880.00,420.30"/>
<polyline points="40.00,356.90 56.80,370.68 73.60,375.72 90.40,379.58 107.20,382.79 124.00,385.60 140.80,388.19 157.60,390.78 174.40,393.29 191.20,395.63 208.00,397.70 224.80,399.53 241.60,401.23 258.40,402.82 275.20,404.34 292.00,405.80 308.80,407.24 325.60,408.65 342.40,410.00 359.20,411.29 376.00,412.50 392.80,413.61 409.60,414.64 426.40,415.62 443.20,416.57 460.00,417.50 476.80,418.48 493.60,419.53 510.40,420.58 527.20,421.59 544.00,422.50 560.80,423.32 577.60,424.11 594.40,424.85 611.20,425.58 628.00,426.30 644.80,426.99 661.60,427.63 678.40,428.25 695.20,428.87 712.00,429.50 728.80,430.15 745.60,430.80 762.40,431.46 779.20,432.13 796.00,432.80 812.80,433.44 829.60,434.01 846.40,434.53 863.20,435.02 880.00,435.50"/>
<polyline points="40.00,356.90 56.80,374.93 73.60,381.76 90.40,386.97 107.20,391.25 124.00,394.90 140.80,398.08 157.60,401.09 174.40,403.91 191.20,406.55 208.00,409.00 224.80,411.28 241.60,413.41 258.40,415.42 275.20,417.34 292.00,419.20 308.80,420.95 325.60,422.56 342.40,424.08 359.20,425.54 376.00,427.00 392.80,428.53 409.60,430.13 426.40,431.71 443.20,433.19 460.00,434.50 476.80,435.63 493.60,436.67 510.40,437.66 527.20,438.66 544.00,439.70 560.80,440.79 577.60,441.90 594.40,442.99 611.20,444.03 628.00,445.00 644.80,445.86 661.60,446.61 678.40,447.31 695.20,447.99 712.00,448.70 728.80,449.42 745.60,450.12 762.40,450.84 779.20,451.58 796.00,452.40 812.80,453.28 829.60,454.19 846.40,455.15 863.20,456.15 880.00,457.20"/>
<polyline points="40.00,356.50 56.80,394.20 73.60,406.80 90.40,419.50 107.20,430.00 124.00,441.00 138.45,451.00 160.46,465.00 175.91,472.50 208.00,484.25 239.92,494.50 253.36,500.00 292.00,513.75 376.00,543.25 392.13,549.50 414.64,554.50 439.84,558.75 451.60,560.50 476.80,563.00 880.00,600.00"/>
</g>
</g>
<g stroke="#6c6c6c" stroke-width="1" fill="none">
<line x1="124.50" y1="40" x2="124.50" y2="561"/>
<line x1="208.50" y1="40" x2="208.50" y2="561"/>
<line x1="292.50" y1="40" x2="292.50" y2="561"/>
<line x1="376.50" y1="40" x2="376.50" y2="561"/>
<line x1="460.50" y1="40" x2="460.50" y2="561"/>
<line x1="544.50" y1="40" x2="544.50" y2="561"/>
<line x1="628.50" y1="40" x2="628.50" y2="561"/>
<line x1="712.50" y1="40" x2="712.50" y2="561"/>
<line x1="796.50" y1="40" x2="796.50" y2="561"/>
<line x1="40" y1="516.50" x2="881" y2="516.50"/>
<line x1="40" y1="473.50" x2="881" y2="473.50"/>
<line x1="40" y1="430.50" x2="881" y2="430.50"/>
<line x1="40" y1="386.50" x2="881" y2="386.50"/>
<line x1="40" y1="343.50" x2="881" y2="343.50"/>
<line x1="40" y1="300.50" x2="881" y2="300.50"/>
<line x1="40" y1="256.50" x2="881" y2="256.50"/>
<line x1="40" y1="213.50" x2="881" y2="213.50"/>
<line x1="40" y1="170.50" x2="881" y2="170.50"/>
<line x1="40" y1="126.50" x2="881" y2="126.50"/>
<line x1="40" y1="83.50" x2="881" y2="83.50"/>
</g>
<g stroke="#6c6c6c" stroke-width="1" fill="none">
<line x1="40.50" y1="561" x2="40.50" y2="564"/>
<line x1="124.50" y1="561" x2="124.50" y2="564"/>
<line x1="208.50" y1="561" x2="208.50" y2="564"/>
<line x1="292.50" y1="561" x2="292.50" y2="564"/>
<line x1="376.50" y1="561" x2="376.50" y2="564"/>
<line x1="460.50" y1="561" x2="460.50" y2="564"/>
<line x1="544.50" y1="561" x2="544.50" y2="564"/>
<line x1="628.50" y1="561" x2="628.50" y2="564"/>
<line x1="712.50" y1="561" x2="712.50" y2="564"/>
<line x1="796.50" y1="561" x2="796.50" y2="564"/>
<line x1="880.50" y1="561" x2="880.50" y2="564"/>
<line x1="37" y1="560.50" x2="40" y2="560.50"/>
<line x1="37" y1="516.50" x2="40" y2="516.50"/>
<line x1="37" y1="473.50" x2="40" y2="473.50"/>
<line x1="37" y1="430.50" x2="40" y2="430.50"/>
<line x1="37" y1="386.50" x2="40" y2="386.50"/>
<line x1="37" y1="343.50" x2="40" y2="343.50"/>
<line x1="37" y1="300.50" x2="40" y2="300.50"/>
<line x1="37" y1="256.50" x2="40" y2="256.50"/>
<line x1="37" y1="213.50" x2="40" y2="213.50"/>
<line x1="37" y1="170.50" x2="40" y2="170.50"/>
<line x1="37" y1="126.50" x2="40" y2="126.50"/>
<line x1="37" y1="83.50" x2="40" y2="83.50"/>
<line x1="37" y1="40.50" x2="40" y2="40.50"/>
</g>
<rect x="40" y="40" width="841" height="521" fill="none" stroke="#626262" stroke-width="2"/>
<defs><clipPath id="cp2"><rect x="40" y="40" width="842" height="522"/></clipPath></defs>
<g fill="none" stroke-linejoin="miter" stroke-width="1" shape-rendering="crispEdges" clip-path="url(#cp2)">
<polyline points="45.00,353.50 140.00,353.50 143.00,351.50 296.00,351.50 298.10,342.50 302.50,334.50 306.90,333.50 308.75,331.50 318.75,331.50 322.25,322.50 457.00,322.50 460.00,308.50 480.40,308.50 483.00,306.50 518.00,306.50 519.80,290.50 541.30,290.50 544.90,288.50 547.70,284.50 549.10,278.50 550.10,264.50 668.70,264.50 671.00,197.50 681.80,197.50 683.00,184.50 685.30,147.50 745.50,147.50 748.40,145.50 881.00,145.50" stroke="#ffcc00"/>
<polyline points="45.00,354.50 140.00,354.50 143.00,352.50 296.00,352.50 298.10,343.50 302.50,335.50 306.90,334.50 308.75,332.50 318.75,332.50 322.25,323.50 457.00,323.50 460.00,309.50 480.40,309.50 483.00,307.50 518.00,307.50 519.80,291.50 541.30,291.50 544.90,289.50 547.70,285.50 549.10,279.50 550.10,265.50 668.70,265.50 671.00,198.50 681.80,198.50 683.00,185.50 685.30,148.50 745.50,148.50 748.40,146.50 881.00,146.50" stroke="#ffcc00"/>
<polyline points="45.00,355.50 140.00,355.50 143.00,353.50 296.00,353.50 298.10,344.50 302.50,336.50 306.90,335.50 308.75,333.50 318.75,333.50 322.25,324.50 457.00,324.50 460.00,310.50 480.40,310.50 483.00,308.50 518.00,308.50 519.80,292.50 541.30,292.50 544.90,290.50 547.70,286.50 549.10,280.50 550.10,266.50 668.70,266.50 671.00,199.50 681.80,199.50 683.00,186.50 685.30,149.50 745.50,149.50 748.40,147.50 881.00,147.50" stroke="#ffcc00"/>
<polyline points="45.00,352.50 140.00,352.50 143.00,350.50 296.00,350.50 298.10,341.50 302.50,333.50 306.90,332.50 308.75,330.50 318.75,330.50 322.25,321.50 457.00,321.50 460.00,307.50 480.40,307.50 483.00,305.50 518.00,305.50 519.80,289.50 541.30,289.50 544.90,287.50 547.70,283.50 549.10,277.50 550.10,263.50 668.70,263.50 671.00,196.50 681.80,196.50 683.00,183.50 685.30,146.50 745.50,146.50 748.40,144.50 881.00,144.50" stroke="#000"/>
<polyline points="45.00,356.50 140.00,356.50 143.00,354.50 296.00,354.50 298.10,345.50 302.50,337.50 306.90,336.50 308.75,334.50 318.75,334.50 322.25,325.50 457.00,325.50 460.00,311.50 480.40,311.50 483.00,309.50 518.00,309.50 519.80,293.50 541.30,293.50 544.90,291.50 547.70,287.50 549.10,281.50 550.10,267.50 668.70,267.50 671.00,200.50 681.80,200.50 683.00,187.50 685.30,150.50 745.50,150.50 748.40,148.50 881.00,148.50" stroke="#000"/>
</g>
<g fill="none" stroke-linejoin="miter" stroke-width="1" shape-rendering="crispEdges" clip-path="url(#cp2)">
<polyline points="40.00,355.50 60.40,355.50 62.90,361.50 76.00,361.50 79.75,372.50 90.40,372.50 93.50,374.50 881.00,374.50" stroke="#00ffcc"/>
<polyline points="40.00,356.50 60.40,356.50 62.90,362.50 76.00,362.50 79.75,373.50 90.40,373.50 93.50,375.50 881.00,375.50" stroke="#00ffcc"/>
<polyline points="40.00,357.50 60.40,357.50 62.90,363.50 76.00,363.50 79.75,374.50 90.40,374.50 93.50,376.50 881.00,376.50" stroke="#00ffcc"/>
<polyline points="60.40,354.50 62.90,360.50 76.00,360.50 79.75,371.50 90.40,371.50 93.50,373.50 881.00,373.50" stroke="#000"/>
<polyline points="40.00,358.50 60.40,358.50 62.90,364.50 76.00,364.50 79.75,375.50 90.40,375.50 93.50,377.50 881.00,377.50" stroke="#000"/>
</g>
<g transform="translate(336.40,14.90)"><text x="0" y="0" font-family="Liberation Mono, monospace" font-size="14.00px" letter-spacing="-0.401px"  fill="#000" text-anchor="start" xml:space="preserve" style="white-space:pre"  stroke="#000" stroke-width="0.55">Oconee Federal Financial - 2012</text></g>
<g transform="translate(284.50,25.80)"><text x="0" y="0" font-family="Liberation Mono, monospace" font-size="11.70px" letter-spacing="-0.021px" font-weight="bold" fill="#000" text-anchor="start" xml:space="preserve" style="white-space:pre"  stroke="#000" stroke-width="0.30">Predicted High to Date (blue) &amp;  Low to Date (red)</text></g>
<g transform="translate(306.30,37.20) scale(1,1.230)"><text x="0" y="0" font-family="Liberation Mono, monospace" font-size="9.90px" letter-spacing="0.059px"  fill="#000" text-anchor="start" xml:space="preserve" style="white-space:pre"  stroke="#000" stroke-width="0.10">vol:0.96% iter:2000 step:10 hurst:0.57 drift:0.07/0</text></g>
<text x="39.70" y="572.3" font-family="Liberation Sans, sans-serif" font-size="11px" text-anchor="middle" fill="#000">0</text>
<text x="123.70" y="572.3" font-family="Liberation Sans, sans-serif" font-size="11px" text-anchor="middle" fill="#000">5</text>
<text x="207.70" y="572.3" font-family="Liberation Sans, sans-serif" font-size="11px" text-anchor="middle" fill="#000">10</text>
<text x="291.70" y="572.3" font-family="Liberation Sans, sans-serif" font-size="11px" text-anchor="middle" fill="#000">15</text>
<text x="375.70" y="572.3" font-family="Liberation Sans, sans-serif" font-size="11px" text-anchor="middle" fill="#000">20</text>
<text x="459.70" y="572.3" font-family="Liberation Sans, sans-serif" font-size="11px" text-anchor="middle" fill="#000">25</text>
<text x="543.70" y="572.3" font-family="Liberation Sans, sans-serif" font-size="11px" text-anchor="middle" fill="#000">30</text>
<text x="627.70" y="572.3" font-family="Liberation Sans, sans-serif" font-size="11px" text-anchor="middle" fill="#000">35</text>
<text x="711.70" y="572.3" font-family="Liberation Sans, sans-serif" font-size="11px" text-anchor="middle" fill="#000">40</text>
<text x="795.70" y="572.3" font-family="Liberation Sans, sans-serif" font-size="11px" text-anchor="middle" fill="#000">45</text>
<text x="879.70" y="572.3" font-family="Liberation Sans, sans-serif" font-size="11px" text-anchor="middle" fill="#000">50</text>
<text transform="translate(35.3,561.10) rotate(-90)" font-family="Liberation Sans, sans-serif" font-size="11px" text-anchor="middle" fill="#000">6</text>
<text transform="translate(35.3,517.77) rotate(-90)" font-family="Liberation Sans, sans-serif" font-size="11px" text-anchor="middle" fill="#000">7</text>
<text transform="translate(35.3,474.43) rotate(-90)" font-family="Liberation Sans, sans-serif" font-size="11px" text-anchor="middle" fill="#000">8</text>
<text transform="translate(35.3,431.10) rotate(-90)" font-family="Liberation Sans, sans-serif" font-size="11px" text-anchor="middle" fill="#000">9</text>
<text transform="translate(35.3,387.77) rotate(-90)" font-family="Liberation Sans, sans-serif" font-size="11px" text-anchor="middle" fill="#000">10</text>
<text transform="translate(35.3,344.43) rotate(-90)" font-family="Liberation Sans, sans-serif" font-size="11px" text-anchor="middle" fill="#000">11</text>
<text transform="translate(35.3,301.10) rotate(-90)" font-family="Liberation Sans, sans-serif" font-size="11px" text-anchor="middle" fill="#000">12</text>
<text transform="translate(35.3,257.77) rotate(-90)" font-family="Liberation Sans, sans-serif" font-size="11px" text-anchor="middle" fill="#000">13</text>
<text transform="translate(35.3,214.43) rotate(-90)" font-family="Liberation Sans, sans-serif" font-size="11px" text-anchor="middle" fill="#000">14</text>
<text transform="translate(35.3,171.10) rotate(-90)" font-family="Liberation Sans, sans-serif" font-size="11px" text-anchor="middle" fill="#000">15</text>
<text transform="translate(35.3,127.77) rotate(-90)" font-family="Liberation Sans, sans-serif" font-size="11px" text-anchor="middle" fill="#000">16</text>
<text transform="translate(35.3,84.43) rotate(-90)" font-family="Liberation Sans, sans-serif" font-size="11px" text-anchor="middle" fill="#000">17</text>
<text transform="translate(35.3,41.10) rotate(-90)" font-family="Liberation Sans, sans-serif" font-size="11px" text-anchor="middle" fill="#000">18</text>
<g transform="translate(445.60,585.00)"><text x="0" y="0" font-family="Liberation Mono, monospace" font-size="11.70px" letter-spacing="-0.021px" font-weight="bold" fill="#000" text-anchor="start" xml:space="preserve" style="white-space:pre"  stroke="#000" stroke-width="0.30">Week</text></g>
<g transform="translate(12.3,332.8) rotate(-90)"><g transform="translate(0.00,0.00)"><text x="0" y="0" font-family="Liberation Mono, monospace" font-size="11.70px" letter-spacing="-0.021px" font-weight="bold" fill="#000" text-anchor="start" xml:space="preserve" style="white-space:pre"  stroke="#000" stroke-width="0.30">Price ($)</text></g></g>
<rect x="19" y="339.5" width="16.5" height="34.5" fill="#e0ffe0"/>
<g transform="translate(31.3,374) rotate(-90)"><g transform="translate(0.00,0.00)"><text x="0" y="0" font-family="Liberation Mono, monospace" font-size="11.70px" letter-spacing="-0.021px" font-weight="bold" fill="#000" text-anchor="start" xml:space="preserve" style="white-space:pre"  stroke="#000" stroke-width="0.30">10.70</text></g></g>
<g transform="translate(883.60,178.10)"><text x="0" y="0" font-family="Liberation Mono, monospace" font-size="8.60px" letter-spacing="-0.161px" font-weight="bold" fill="#000" text-anchor="start" xml:space="preserve" style="white-space:pre"  stroke="#000" stroke-width="0.50">14.83</text></g>
<g transform="translate(883.60,216.10)"><text x="0" y="0" font-family="Liberation Mono, monospace" font-size="8.60px" letter-spacing="-0.161px" font-weight="bold" fill="#000" text-anchor="start" xml:space="preserve" style="white-space:pre"  stroke="#000" stroke-width="0.50">13.94</text></g>
<g transform="translate(883.60,244.10)"><text x="0" y="0" font-family="Liberation Mono, monospace" font-size="8.60px" letter-spacing="-0.161px" font-weight="bold" fill="#000" text-anchor="start" xml:space="preserve" style="white-space:pre"  stroke="#000" stroke-width="0.50">13.30</text></g>
<g transform="translate(883.60,264.10)"><text x="0" y="0" font-family="Liberation Mono, monospace" font-size="8.60px" letter-spacing="-0.161px" font-weight="bold" fill="#000" text-anchor="start" xml:space="preserve" style="white-space:pre"  stroke="#000" stroke-width="0.50">12.84</text></g>
<g transform="translate(883.60,282.10)"><text x="0" y="0" font-family="Liberation Mono, monospace" font-size="8.60px" letter-spacing="-0.161px" font-weight="bold" fill="#000" text-anchor="start" xml:space="preserve" style="white-space:pre"  stroke="#000" stroke-width="0.50">12.42</text></g>
<g transform="translate(883.60,299.10)"><text x="0" y="0" font-family="Liberation Mono, monospace" font-size="8.60px" letter-spacing="-0.161px" font-weight="bold" fill="#000" text-anchor="start" xml:space="preserve" style="white-space:pre"  stroke="#000" stroke-width="0.50">12.04</text></g>
<g transform="translate(883.60,314.10)"><text x="0" y="0" font-family="Liberation Mono, monospace" font-size="8.60px" letter-spacing="-0.161px" font-weight="bold" fill="#000" text-anchor="start" xml:space="preserve" style="white-space:pre"  stroke="#000" stroke-width="0.50">11.68</text></g>
<g transform="translate(883.60,330.10)"><text x="0" y="0" font-family="Liberation Mono, monospace" font-size="8.60px" letter-spacing="-0.161px" font-weight="bold" fill="#000" text-anchor="start" xml:space="preserve" style="white-space:pre"  stroke="#000" stroke-width="0.50">11.33</text></g>
<g transform="translate(883.60,343.10)"><text x="0" y="0" font-family="Liberation Mono, monospace" font-size="8.60px" letter-spacing="-0.161px" font-weight="bold" fill="#000" text-anchor="start" xml:space="preserve" style="white-space:pre"  stroke="#000" stroke-width="0.50">11.02</text></g>
<g transform="translate(883.60,363.10)"><text x="0" y="0" font-family="Liberation Mono, monospace" font-size="8.60px" letter-spacing="-0.161px" font-weight="bold" fill="#000" text-anchor="start" xml:space="preserve" style="white-space:pre"  stroke="#000" stroke-width="0.50">10.56</text></g>
<g transform="translate(883.60,370.10)"><text x="0" y="0" font-family="Liberation Mono, monospace" font-size="8.60px" letter-spacing="-0.161px" font-weight="bold" fill="#000" text-anchor="start" xml:space="preserve" style="white-space:pre"  stroke="#000" stroke-width="0.50">10.39</text></g>
<g transform="translate(883.60,379.10)"><text x="0" y="0" font-family="Liberation Mono, monospace" font-size="8.60px" letter-spacing="-0.161px" font-weight="bold" fill="#000" text-anchor="start" xml:space="preserve" style="white-space:pre"  stroke="#000" stroke-width="0.50">10.19</text></g>
<g transform="translate(883.60,388.10)"><text x="0" y="0" font-family="Liberation Mono, monospace" font-size="8.60px" letter-spacing="-0.161px" font-weight="bold" fill="#000" text-anchor="start" xml:space="preserve" style="white-space:pre"  stroke="#000" stroke-width="0.50">9.98</text></g>
<g transform="translate(883.60,398.10)"><text x="0" y="0" font-family="Liberation Mono, monospace" font-size="8.60px" letter-spacing="-0.161px" font-weight="bold" fill="#000" text-anchor="start" xml:space="preserve" style="white-space:pre"  stroke="#000" stroke-width="0.50">9.75</text></g>
<g transform="translate(883.60,409.10)"><text x="0" y="0" font-family="Liberation Mono, monospace" font-size="8.60px" letter-spacing="-0.161px" font-weight="bold" fill="#000" text-anchor="start" xml:space="preserve" style="white-space:pre"  stroke="#000" stroke-width="0.50">9.50</text></g>
<g transform="translate(883.60,421.10)"><text x="0" y="0" font-family="Liberation Mono, monospace" font-size="8.60px" letter-spacing="-0.161px" font-weight="bold" fill="#000" text-anchor="start" xml:space="preserve" style="white-space:pre"  stroke="#000" stroke-width="0.50">9.23</text></g>
<g transform="translate(883.60,436.10)"><text x="0" y="0" font-family="Liberation Mono, monospace" font-size="8.60px" letter-spacing="-0.161px" font-weight="bold" fill="#000" text-anchor="start" xml:space="preserve" style="white-space:pre"  stroke="#000" stroke-width="0.50">8.87</text></g>
<g transform="translate(883.60,457.10)"><text x="0" y="0" font-family="Liberation Mono, monospace" font-size="8.60px" letter-spacing="-0.161px" font-weight="bold" fill="#000" text-anchor="start" xml:space="preserve" style="white-space:pre"  stroke="#000" stroke-width="0.50">8.38</text></g>
<g transform="translate(917.5,165.3) rotate(-90)"><g transform="translate(0.00,0.00)"><text x="0" y="0" font-family="Liberation Mono, monospace" font-size="11.00px" letter-spacing="-0.601px"  fill="#a06800" text-anchor="start" xml:space="preserve" style="white-space:pre"  stroke="#a06800" stroke-width="0.55">15.535</text></g></g>
<g transform="translate(917.3,397.5) rotate(-90)"><g transform="translate(0.00,0.00)"><text x="0" y="0" font-family="Liberation Mono, monospace" font-size="11.00px" letter-spacing="-0.601px"  fill="#009860" text-anchor="start" xml:space="preserve" style="white-space:pre"  stroke="#009860" stroke-width="0.55">10.2511</text></g></g>
<circle cx="48.6" cy="540.7" r="5.5" fill="none" stroke="#00006c" stroke-width="1.3"/>
<text x="48.6" y="543.8" font-family="Liberation Sans, sans-serif" font-size="8.6px" font-weight="bold" text-anchor="middle" fill="#00006c">C</text>
<g transform="translate(56.70,544.40)"><text x="0" y="0" font-family="Liberation Mono, monospace" font-size="11.70px" letter-spacing="-0.021px" font-weight="bold" fill="#00006c" text-anchor="start" xml:space="preserve" style="white-space:pre"  stroke="#00006c" stroke-width="0.40">www.textbiz.org</text></g>
<g transform="translate(43.00,556.70)"><text x="0" y="0" font-family="Liberation Mono, monospace" font-size="11.70px" letter-spacing="-0.021px" font-weight="bold" fill="#00006c" text-anchor="start" xml:space="preserve" style="white-space:pre"  stroke="#00006c" stroke-width="0.40">The Research Foundation of SUNY</text></g>
<g transform="translate(282.80,598.00) scale(1,1.230)"><text x="0" y="0" font-family="Liberation Mono, monospace" font-size="9.90px" letter-spacing="0.059px"  fill="#000" text-anchor="start" xml:space="preserve" style="white-space:pre"  stroke="#000" stroke-width="0.10">LTD</text></g>
<rect x="302" y="592.2" width="12.5" height="5" fill="#000"/><rect x="302" y="593.2" width="12.5" height="3" fill="#00ffcc"/>
<g transform="translate(318.60,598.00) scale(1,1.230)"><text x="0" y="0" font-family="Liberation Mono, monospace" font-size="9.90px" letter-spacing="0.059px"  fill="#000" text-anchor="start" xml:space="preserve" style="white-space:pre"  stroke="#000" stroke-width="0.10">HTD</text></g>
<rect x="338.2" y="592.2" width="12.8" height="5" fill="#000"/><rect x="338.2" y="593.2" width="12.8" height="3" fill="#ffcc00"/>
<g transform="translate(354.70,598.00) scale(1,1.230)"><text x="0" y="0" font-family="Liberation Mono, monospace" font-size="9.90px" letter-spacing="0.059px"  fill="#000" text-anchor="start" xml:space="preserve" style="white-space:pre"  stroke="#000" stroke-width="0.10">prob:0%&lt;</text></g>
<rect x="404.3" y="587.2" width="15.8" height="5.8" fill="#fff4f4"/>
<rect x="404.3" y="593" width="15.8" height="5.6" fill="#f4f4ff"/>
<g transform="translate(421.40,598.00) scale(1,1.230)"><text x="0" y="0" font-family="Liberation Mono, monospace" font-size="9.90px" letter-spacing="0.059px"  fill="#000" text-anchor="start" xml:space="preserve" style="white-space:pre"  stroke="#000" stroke-width="0.10">&lt;10%&lt;</text></g>
<rect x="451.9" y="587.2" width="15.8" height="5.8" fill="#ffdcdc"/>
<rect x="451.9" y="593" width="15.8" height="5.6" fill="#dcdcff"/>
<g transform="translate(468.70,598.00) scale(1,1.230)"><text x="0" y="0" font-family="Liberation Mono, monospace" font-size="9.90px" letter-spacing="0.059px"  fill="#000" text-anchor="start" xml:space="preserve" style="white-space:pre"  stroke="#000" stroke-width="0.10">&lt;20%&lt;</text></g>
<rect x="499.8" y="587.2" width="15.8" height="5.8" fill="#ffc0c0"/>
<rect x="499.8" y="593" width="15.8" height="5.6" fill="#c0c0ff"/>
<g transform="translate(517.00,598.00) scale(1,1.230)"><text x="0" y="0" font-family="Liberation Mono, monospace" font-size="9.90px" letter-spacing="0.059px"  fill="#000" text-anchor="start" xml:space="preserve" style="white-space:pre"  stroke="#000" stroke-width="0.10">&lt;30%&lt;</text></g>
<rect x="548.0" y="587.2" width="15.8" height="5.8" fill="#ffa0a0"/>
<rect x="548.0" y="593" width="15.8" height="5.6" fill="#a0a0ff"/>
<g transform="translate(565.00,598.00) scale(1,1.230)"><text x="0" y="0" font-family="Liberation Mono, monospace" font-size="9.90px" letter-spacing="0.059px"  fill="#000" text-anchor="start" xml:space="preserve" style="white-space:pre"  stroke="#000" stroke-width="0.10">&lt;40%&lt;</text></g>
<rect x="596.0" y="587.2" width="15.8" height="5.8" fill="#ff8080"/>
<rect x="596.0" y="593" width="15.8" height="5.6" fill="#8080ff"/>
<g transform="translate(612.80,598.00) scale(1,1.230)"><text x="0" y="0" font-family="Liberation Mono, monospace" font-size="9.90px" letter-spacing="0.059px"  fill="#000" text-anchor="start" xml:space="preserve" style="white-space:pre"  stroke="#000" stroke-width="0.10">&lt;50%</text></g>
</svg>
</body></html>
